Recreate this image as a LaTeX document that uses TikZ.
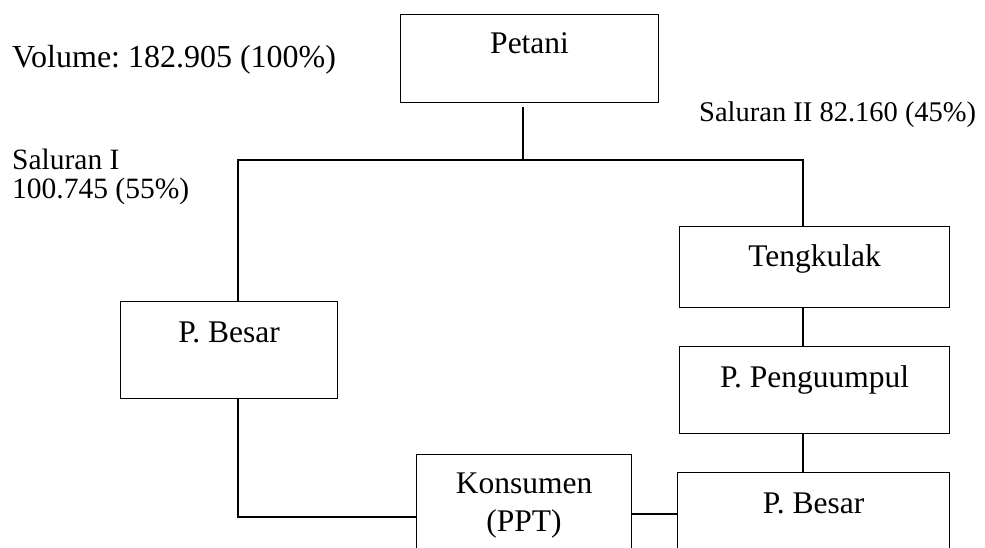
\documentclass[tikz,border=0pt]{standalone}
\usepackage{fontspec}
\setmainfont{Liberation Serif}
\frenchspacing
\usetikzlibrary{positioning}
\begin{document}
\begin{tikzpicture}[x=1pt,y=-1pt,
  box/.style={draw=black,line width=1.2pt,rectangle,inner sep=0pt,anchor=north west,
    font=\fontsize{31.5}{36.5}\selectfont,align=center},
  lbl/.style={inner sep=0pt,anchor=base west},
  link/.style={draw=black,line width=1.4pt}]
\clip (0,0) rectangle (985,548);
\fill[white] (0,0) rectangle (985,548);
% boxes
\node[box,minimum width=258pt,text height=39pt,text depth=49pt] (petani) at (400,14) {Petani};
\node[box,minimum width=270pt,text height=40pt,text depth=41pt] (tengkulak) at (679,226) {Tengkulak};
\node[box,minimum width=270pt,text height=41pt,text depth=46pt] (penguumpul) at (679,346) {P. Penguumpul};
\node[box,minimum width=217pt,text height=41pt,text depth=56pt] (lbesar) at (120,301) {P. Besar};
\node[box,minimum width=272pt,text height=41pt,text depth=80pt] (rbesar) at (677,472) {P. Besar};
\node[box,minimum width=215pt,text height=77pt,text depth=60pt] (konsumen) at (416,454) {Konsumen\\[2pt](PPT)};
% labels
\node[lbl,font=\fontsize{32}{36}\selectfont] (vol) at (12,68) {Volume: 182.905 (100\%)};
\node[lbl,font=\fontsize{29.5}{29}\selectfont,align=left] (sal1) at (12,199) {Saluran I\\100.745 (55\%)};
\node[lbl,font=\fontsize{28.5}{34}\selectfont] (sal2) at (699,122) {Saluran II 82.160 (45\%)};
% junctions
\coordinate (top) at (523,160);
\coordinate (hl) at (238,160);
\coordinate (hr) at (803,160);
\coordinate (bl) at (238,517);
\coordinate (mid) at (0,514);
% connectors
\draw[link] ([yshift=-4pt]top |- petani.south) -- (top);
\draw[link] (hl |- lbesar.north) -- (hl) -- (hr) -- (hr |- tengkulak.north);
\draw[link] (hr |- tengkulak.south) -- (hr |- penguumpul.north);
\draw[link] (hr |- penguumpul.south) -- (hr |- rbesar.north);
\draw[link] (hl |- lbesar.south) -- (bl) -- (bl -| konsumen.west);
\draw[link] (mid -| konsumen.east) -- (mid -| rbesar.west);
\end{tikzpicture}
\end{document}
